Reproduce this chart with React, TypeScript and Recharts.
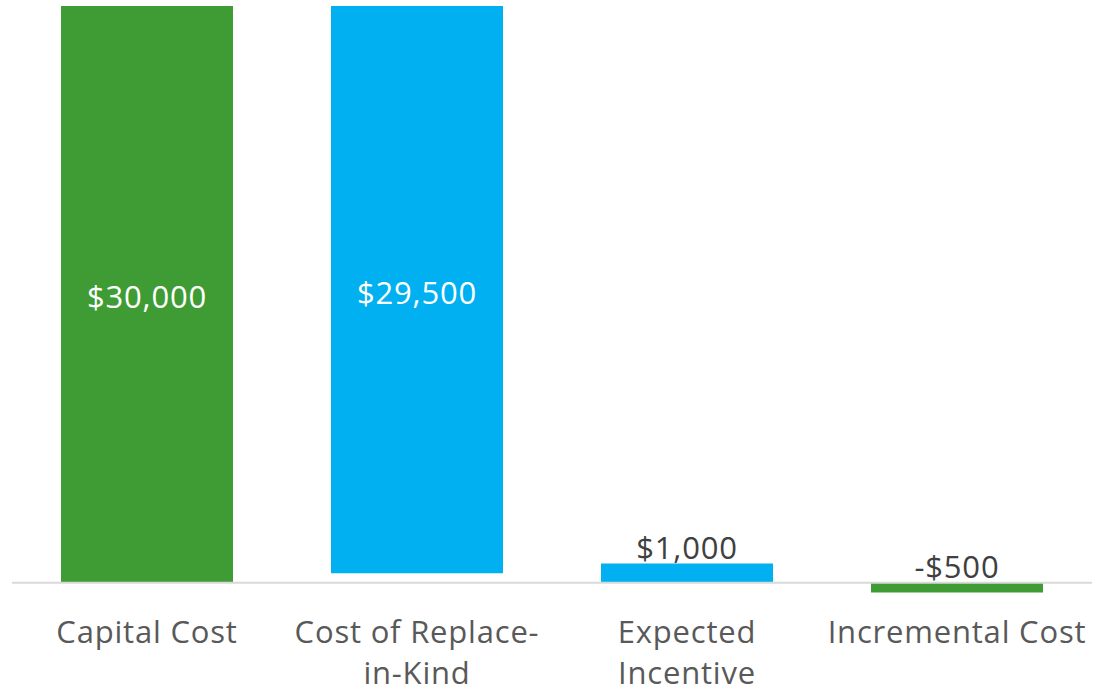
import { BarChart, Bar, XAxis, YAxis, Cell, LabelList, ReferenceLine } from "recharts";

const categories = ["Capital Cost", "Cost of Replace-in-Kind", "Expected Incentive", "Incremental Cost"];
const tickLines = [["Capital Cost"], ["Cost of Replace-", "in-Kind"], ["Expected", "Incentive"], ["Incremental Cost"]];
const amounts = [30000, 29500, 1000, -500];
const bases = [0, 500, 0, 0];
const colors = ["#3F9C35", "#00B0F0", "#00B0F0", "#3F9C35"];
const labelInside = [true, true, false, false];

const data = categories.map((name, i) => {
  const a = bases[i];
  const b = bases[i] + amounts[i];
  return { name, range: [Math.min(a, b), Math.max(a, b)], amount: amounts[i] };
});

const fmt = (v: number) => (v < 0 ? "-$" : "$") + Math.abs(v).toLocaleString("en-US");

const FONT = "'Open Sans', sans-serif";

const ValueLabel = (props: any) => {
  const { x, y, width, height, index } = props;
  const top = Math.min(y, y + height);
  const bottom = Math.max(y, y + height);
  const inside = labelInside[index];
  const cx = x + width / 2;
  const cy = inside ? (top + bottom) / 2 + 2 : top - 17;
  return (
    <text
      x={cx}
      y={cy}
      textAnchor="middle"
      dominantBaseline="central"
      fill={inside ? "#FFFFFF" : "#404040"}
      fontSize={31}
      letterSpacing={0.8}
      fontFamily={FONT}
    >
      {fmt(amounts[index])}
    </text>
  );
};

const CategoryTick = (props: any) => {
  const { x, y, index } = props;
  const lines = tickLines[index] || [];
  return (
    <g>
      {lines.map((l, j) => (
        <text
          key={j}
          x={x}
          y={y + 41 + j * 41}
          textAnchor="middle"
          fill="#595959"
          fontSize={31}
          letterSpacing={0.8}
          fontFamily={FONT}
        >
          {l}
        </text>
      ))}
    </g>
  );
};

export default function App() {
  return (
    <div style={{ position: "absolute", left: 0, top: 0, background: "#fff" }}>
      <BarChart
        width={1119}
        height={694}
        data={data}
        margin={{ top: 6, right: 27, left: 12, bottom: 0 }}
        barCategoryGap={0}
      >
        <XAxis
          dataKey="name"
          axisLine={false}
          tickLine={false}
          tickSize={0}
          tickMargin={0}
          height={92}
          interval={0}
          tick={<CategoryTick />}
        />
        <YAxis hide domain={[-1000, 30000]} allowDataOverflow />
        <ReferenceLine y={0} stroke="#D9D9D9" strokeWidth={2} />
        <Bar dataKey="range" barSize={172} isAnimationActive={false}>
          {data.map((d, i) => (
            <Cell key={d.name} fill={colors[i]} />
          ))}
          <LabelList dataKey="amount" content={<ValueLabel />} />
        </Bar>
      </BarChart>
    </div>
  );
}
